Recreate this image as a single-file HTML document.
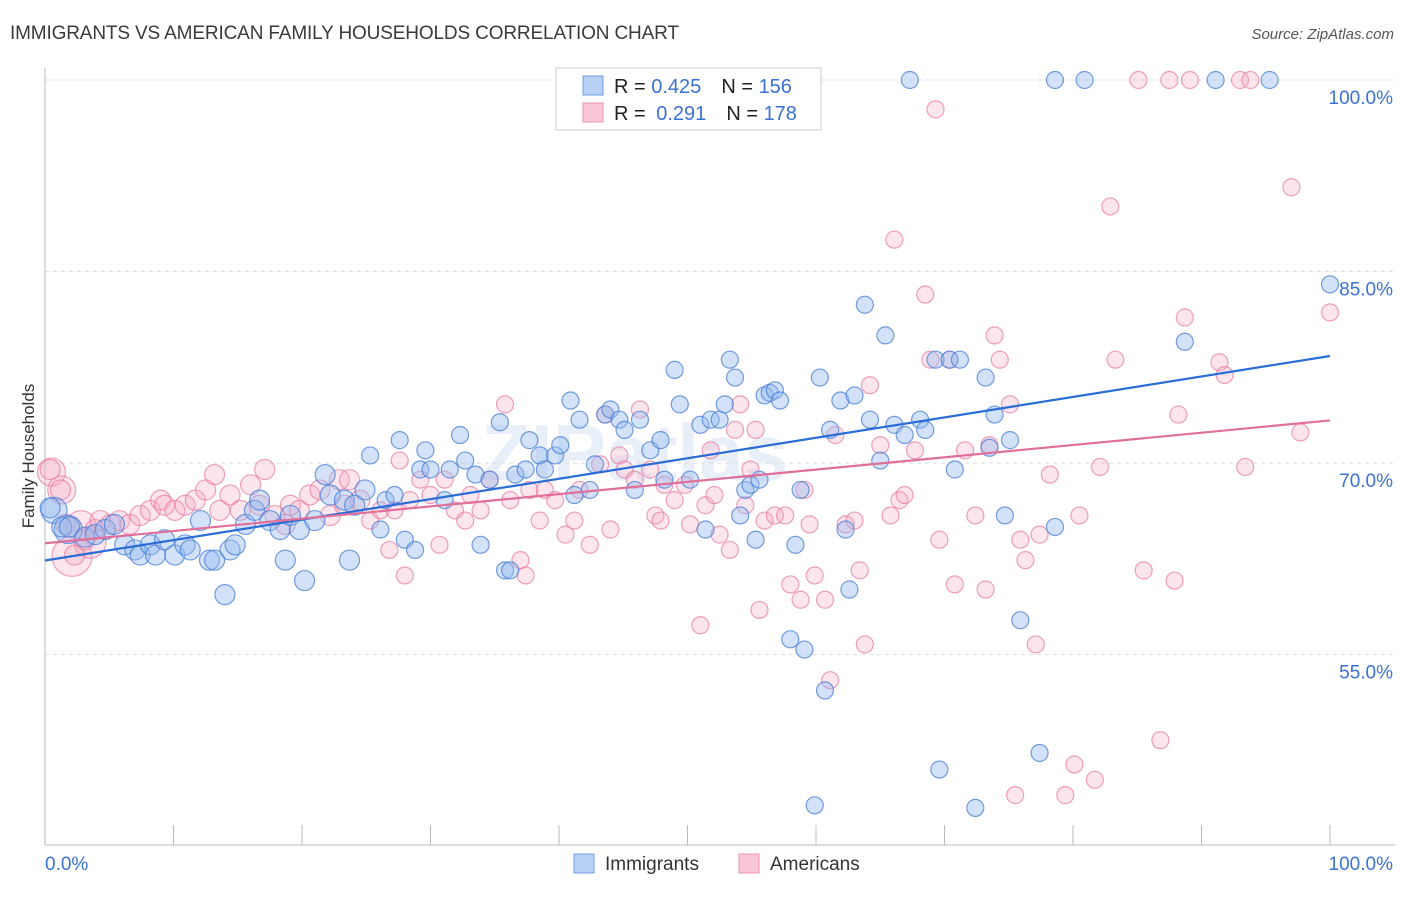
<!DOCTYPE html>
<html><head><meta charset="utf-8"><style>
body{margin:0;background:#fff;font-family:"Liberation Sans",sans-serif;}
svg text{font-family:"Liberation Sans",sans-serif;}
</style></head><body>
<svg id="chart" width="1406" height="892" xmlns="http://www.w3.org/2000/svg">
<text x="10" y="39" font-size="19" fill="#3a3a3a" textLength="669">IMMIGRANTS VS AMERICAN FAMILY HOUSEHOLDS CORRELATION CHART</text>
<text x="1394" y="39" font-size="15" fill="#555" font-style="italic" text-anchor="end">Source: ZipAtlas.com</text>
<text x="34" y="456" font-size="17" fill="#333" transform="rotate(-90 34 456)" text-anchor="middle">Family Households</text>
<text x="635" y="480" font-size="80" fill="#e8eff8" font-weight="bold" text-anchor="middle">ZIPatlas</text>
<g id="grid"></g><g id="pts"></g><g id="lines"></g>
<g>
<rect x="556" y="68" width="265" height="62" fill="#fff" stroke="#ccc"/>
<rect x="583" y="76" width="20" height="19" fill="#b7d0f4" stroke="#6e9ee0"/>
<rect x="583" y="103" width="20" height="19" fill="#f9c7d6" stroke="#ec94b2"/>
<text x="614" y="93" font-size="20" fill="#222">R = <tspan fill="#3a72d4">0.425</tspan><tspan dx="20">N = </tspan><tspan fill="#3a72d4">156</tspan></text>
<text x="614" y="120" font-size="20" fill="#222">R = <tspan fill="#3a72d4" dx="5">0.291</tspan><tspan dx="20">N = </tspan><tspan fill="#3a72d4">178</tspan></text>
</g>
<g>
<rect x="574" y="854" width="20" height="19" fill="#b7d0f4" stroke="#6e9ee0"/>
<text x="605" y="870" font-size="19" fill="#333">Immigrants</text>
<rect x="739" y="854" width="20" height="19" fill="#f9c7d6" stroke="#ec94b2"/>
<text x="770" y="870" font-size="19" fill="#333">Americans</text>
</g>
</svg>
<script>
const yTicks=[55,70,85,100];
const xTickCount=10;
const blueX=[0.4,1.3,1.9,3.1,3.9,4.7,5.4,6.2,7.0,7.4,8.2,8.6,9.3,10.1,10.9,11.3,12.1,12.8,13.2,14.0,14.4,14.8,15.6,16.3,16.7,17.5,18.3,18.7,19.1,19.8,20.2,21.0,21.8,22.2,23.3,23.7,24.1,24.9,25.3,26.1,26.5,27.2,27.6,28.0,28.8,29.2,29.6,30.0,31.1,31.5,32.3,32.7,33.5,33.9,34.6,35.4,35.8,36.2,36.6,37.4,37.7,38.5,38.9,39.7,40.1,40.9,41.2,41.6,42.4,42.8,43.6,44.0,44.7,45.1,45.9,46.3,47.1,47.9,48.2,49.0,49.4,50.2,51.0,51.4,51.8,52.5,52.9,53.3,53.7,54.1,54.5,54.9,55.3,55.6,56.0,56.4,56.8,57.2,58.0,58.4,58.8,59.1,59.9,60.3,60.7,61.1,61.9,62.3,62.6,63.0,63.8,64.2,65.0,65.4,66.1,66.9,67.3,68.1,68.5,69.3,69.6,70.4,70.8,71.2,72.4,73.2,73.5,73.9,74.7,75.1,75.9,77.4,78.6,78.6,80.9,88.7,91.1,95.3,100];
const blueY=[66.5,65.0,65.0,64.2,64.4,64.8,65.2,63.6,63.2,62.8,63.6,62.8,64.0,62.8,63.6,63.2,65.5,62.4,62.4,59.7,63.2,63.6,65.2,66.3,67.1,65.5,64.8,62.4,65.9,64.8,60.8,65.5,69.1,67.5,67.1,62.4,66.7,67.9,70.6,64.8,67.1,67.5,71.8,64.0,63.2,69.5,71.0,69.5,67.1,69.5,72.2,70.2,69.1,63.6,68.7,73.2,61.6,61.6,69.1,69.5,71.8,70.6,69.5,70.6,71.4,74.9,67.5,73.4,67.9,69.9,73.8,74.2,73.4,72.6,67.9,73.4,71.0,71.8,68.7,77.3,74.6,68.7,73.0,64.8,73.4,73.4,74.6,78.1,76.7,65.9,67.9,68.3,64.0,68.7,75.3,75.5,75.7,74.9,56.2,63.6,67.9,55.4,43.2,76.7,52.2,72.6,74.9,64.8,60.1,75.3,82.4,73.4,70.2,80.0,73.0,72.2,100,73.4,72.6,78.1,46.0,78.1,69.5,78.1,43.0,76.7,71.2,73.8,65.9,71.8,57.7,47.3,65.0,100,100,79.5,100,100,84.0];
const pinkX=[0.4,1.2,1.6,2.3,3.1,3.9,4.3,5.1,5.8,6.6,7.4,8.2,9.0,9.3,10.1,10.9,11.7,12.5,13.2,13.6,14.4,15.2,16.0,16.7,17.1,17.9,18.7,19.1,19.8,20.6,21.4,22.2,22.9,23.3,23.7,24.5,25.3,26.1,26.8,27.2,27.6,28.0,28.4,29.2,30.0,30.7,31.1,31.9,32.7,33.1,33.9,34.6,35.8,36.2,37.0,37.4,37.7,38.5,38.9,39.7,40.5,41.2,41.6,42.4,43.2,43.6,44.0,44.7,45.1,45.9,46.3,47.1,47.5,47.9,48.2,49.0,49.8,50.2,51.0,51.4,51.8,52.1,52.5,53.3,53.7,54.1,54.5,54.9,55.3,55.6,56.0,56.8,57.6,58.0,58.8,59.1,59.5,59.9,60.7,61.1,61.5,62.3,63.0,63.4,63.8,64.2,65.0,65.8,66.1,66.5,66.9,67.7,68.5,68.9,69.3,69.6,70.4,70.8,71.6,72.4,73.2,73.5,73.9,74.3,75.1,75.5,75.9,76.3,77.1,77.4,78.2,79.4,80.1,80.5,81.7,82.1,82.9,83.3,85.1,85.5,86.8,87.5,87.9,88.2,88.7,89.1,91.4,91.8,93.0,93.4,93.8,97.0,97.7,100];
const pinkY=[69.5,67.9,65.2,62.8,64.0,64.8,65.5,65.2,65.5,65.2,65.9,66.3,67.1,66.7,66.3,66.7,67.1,67.9,69.1,66.3,67.5,66.3,68.3,66.7,69.5,65.9,65.2,66.7,66.3,67.5,67.9,65.9,68.7,66.7,68.7,67.1,65.5,66.3,63.2,66.3,70.2,61.2,67.1,68.7,67.5,63.6,68.7,66.3,65.5,67.5,66.3,68.7,74.6,67.1,62.4,61.2,67.9,65.5,67.9,67.1,64.4,65.5,67.9,63.6,69.9,73.8,64.8,70.6,69.5,68.7,74.2,69.5,65.9,65.5,68.3,67.1,68.3,65.2,57.3,66.7,71.0,67.5,64.4,63.2,72.6,74.6,66.7,69.5,72.6,58.5,65.5,65.9,65.9,60.5,59.3,67.9,65.2,61.2,59.3,53.0,72.2,65.2,65.5,61.6,55.8,76.1,71.4,65.9,87.5,67.1,67.5,71.0,83.2,78.1,97.7,64.0,78.1,60.5,71.0,65.9,60.1,71.4,80.0,78.1,74.6,44.0,64.0,62.4,55.8,64.4,69.1,44.0,46.4,65.9,45.2,69.7,90.1,78.1,100,61.6,48.3,100,60.8,73.8,81.4,100,77.9,76.9,100,69.7,100,91.6,72.4,81.8];
const pinkBig=[[0.5,69.3,14],[1.3,67.9,14],[2.1,62.7,20],[3.5,63.8,16],[2.8,65.1,15]];
const blueBig=[[0.7,66.3,13],[1.8,64.8,14]];
const NS='http://www.w3.org/2000/svg';
const X0=45,X1=1330,YB=845;
const xs=v=>X0+(X1-X0)*v/100;
const ys=v=>80+(100-v)*12.77;
const grid=document.getElementById('grid');
function mk(tag,a,parent){const e=document.createElementNS(NS,tag);for(const k in a)e.setAttribute(k,a[k]);parent.appendChild(e);return e;}
yTicks.forEach(t=>{
  const l=mk('line',{x1:X0,x2:1395,y1:ys(t),y2:ys(t),stroke:'#ddd','stroke-dasharray':'4,4'},grid);
  
  
  const tx=mk('text',{x:1393,y:ys(t)+24,'font-size':19,fill:'#3a72d4','text-anchor':'end'},grid);
  tx.textContent=t.toFixed(1)+'%';
  
  
});
const ax=mk('line',{x1:X0,x2:X0,y1:68,y2:YB,stroke:'#bbb'},grid);


const bx=mk('line',{x1:X0,x2:1395,y1:YB,y2:YB,stroke:'#bbb'},grid);


for(let i=0;i<=xTickCount;i++){
  const t=mk('line',{x1:xs(i*10),x2:xs(i*10),y1:YB-20,y2:YB,stroke:'#bbb'},grid);
  
  
}
const xl0=mk('text',{x:45,y:870,'font-size':19,fill:'#3a72d4'},grid);xl0.textContent='0.0%';


const xl1=mk('text',{x:1393,y:870,'font-size':19,fill:'#3a72d4','text-anchor':'end'},grid);xl1.textContent='100.0%';


const pts=document.getElementById('pts');
function dot(x,y,r,c,name){
  const e=mk('circle',{cx:xs(x),cy:ys(y),r:r,fill:c[0],stroke:c[1],'stroke-width':1.2},pts);
  
  
}
const PC=['rgba(244,170,196,0.3)','rgba(232,120,160,0.7)'];
const BC=['rgba(150,186,238,0.42)','rgba(70,125,215,0.75)'];
pinkBig.forEach(p=>dot(p[0],p[1],p[2],PC,'american-point'));
pinkX.forEach((x,i)=>dot(x,pinkY[i],x<25?10:8.5,PC,'american-point'));
blueBig.forEach(p=>dot(p[0],p[1],p[2],BC,'immigrant-point'));
blueX.forEach((x,i)=>dot(x,blueY[i],x<25?10:8.5,BC,'immigrant-point'));
function fit(X,Y){const n=X.length;let mx=0,my=0;X.forEach((x,i)=>{mx+=x;my+=Y[i]});mx/=n;my/=n;let sxy=0,sxx=0;X.forEach((x,i)=>{sxy+=(x-mx)*(Y[i]-my);sxx+=(x-mx)**2});const b=sxy/sxx;return[my-b*mx,b];}
const lines=document.getElementById('lines');
const fb=fit(blueX,blueY),fp=fit(pinkX,pinkY);
const lb=mk('line',{x1:xs(0),y1:ys(fb[0]),x2:xs(100),y2:ys(fb[0]+fb[1]*100),stroke:'#2a6dd6','stroke-width':2.2},lines);


const lp=mk('line',{x1:xs(0),y1:ys(fp[0]),x2:xs(100),y2:ys(fp[0]+fp[1]*100),stroke:'#e0709a','stroke-width':2.2},lines);


</script>
</body></html>
